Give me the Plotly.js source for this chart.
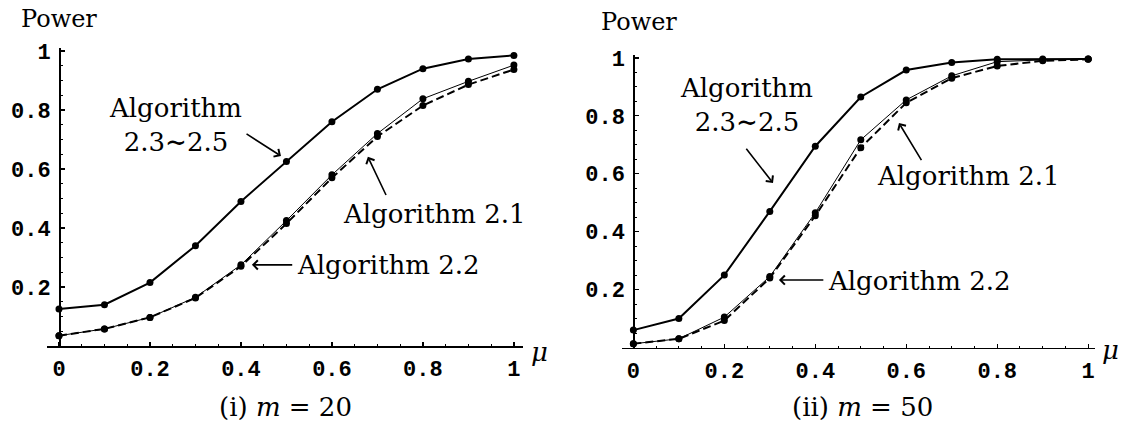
<!DOCTYPE html>
<html>
<head>
<meta charset="utf-8">
<script src="https://cdn.plot.ly/plotly-3.0.1.min.js"></script>
<style>
  html, body { margin: 0; padding: 0; background: #fff; }
  #chart { width: 1133px; height: 432px; }
</style>
</head>
<body>
<div id="chart"></div>
<script>
// Power against the shift mu, for m = 20 (left) and m = 50 (right)
const mu = [0, 0.1, 0.2, 0.3, 0.4, 0.5, 0.6, 0.7, 0.8, 0.9, 1.0];

// m = 20
const alg23to25_m20 = [0.125, 0.14, 0.215, 0.34, 0.49, 0.625, 0.76, 0.87, 0.94, 0.973, 0.985];
const alg21_m20     = [0.035, 0.058, 0.097, 0.163, 0.27, 0.415, 0.57, 0.71, 0.815, 0.886, 0.937];
const alg22_m20     = [0.035, 0.058, 0.097, 0.165, 0.275, 0.425, 0.58, 0.72, 0.838, 0.897, 0.952];

// m = 50
const alg23to25_m50 = [0.06, 0.10, 0.25, 0.47, 0.695, 0.865, 0.958, 0.984, 0.995, 0.996, 0.996];
const alg21_m50     = [0.013, 0.03, 0.093, 0.24, 0.455, 0.69, 0.845, 0.93, 0.972, 0.99, 0.995];
const alg22_m50     = [0.013, 0.03, 0.105, 0.245, 0.465, 0.717, 0.855, 0.938, 0.987, 0.993, 0.996];

const xTicks = [0, 0.2, 0.4, 0.6, 0.8, 1];
const yTicks = [0.2, 0.4, 0.6, 0.8, 1];

const serif = 'DejaVu Serif';
const mono = 'Liberation Mono';

function series(y, xa, ya, kind) {
  const line = kind === 'main' ? {color: '#000', width: 2}
             : kind === 'dash' ? {color: '#000', width: 2, dash: '8px,4px'}
             : {color: '#000', width: 1};
  return {
    x: mu, y: y, xaxis: xa, yaxis: ya,
    type: 'scatter', mode: 'lines+markers',
    line: line,
    marker: {color: '#000', size: 7},
    cliponaxis: false,
    hoverinfo: 'skip'
  };
}

const data = [
  series(alg22_m20, 'x', 'y', 'thin'),
  series(alg21_m20, 'x', 'y', 'dash'),
  series(alg23to25_m20, 'x', 'y', 'main'),
  series(alg22_m50, 'x2', 'y2', 'thin'),
  series(alg21_m50, 'x2', 'y2', 'dash'),
  series(alg23to25_m50, 'x2', 'y2', 'main')
];

function xAxis(domain, range, anchor) {
  return {
    domain: domain, range: range, anchor: anchor,
    showgrid: false, zeroline: false,
    showline: true, linecolor: '#000', linewidth: 1.6,
    tickmode: 'array', tickvals: xTicks,
    ticks: 'inside', ticklen: 4, tickwidth: 1.2, tickcolor: '#000',
    minor: {tickmode: 'linear', tick0: 0, dtick: 0.05, ticks: 'inside', ticklen: 2, tickwidth: 1, tickcolor: '#000'},
    tickfont: {family: mono, size: 22, color: '#000', weight: 'bold'},
    ticklabelstandoff: 2,
    fixedrange: true
  };
}

function yAxis(domain, position) {
  return {
    domain: domain, range: [0, 1.01], anchor: 'free', position: position,
    showgrid: false, zeroline: false,
    showline: true, linecolor: '#000', linewidth: 1.6,
    tickmode: 'array', tickvals: yTicks,
    ticks: 'inside', ticklen: 4, tickwidth: 1.2, tickcolor: '#000',
    minor: {tickmode: 'linear', tick0: 0, dtick: 0.05, ticks: 'inside', ticklen: 2, tickwidth: 1, tickcolor: '#000'},
    tickfont: {family: mono, size: 22, color: '#000', weight: 'bold'},
    ticklabelstandoff: 4,
    fixedrange: true
  };
}

function label(text, x, y, xref, yref, opts) {
  return Object.assign({
    text: text, x: x, y: y, xref: xref, yref: yref,
    showarrow: false, xanchor: 'center', yanchor: 'middle',
    font: {family: serif, size: 26, color: '#000'}
  }, opts || {});
}

function arrow(xa, ya, tipX, tipY, tailX, tailY) {
  return {
    text: ' ', font: {size: 1},
    xref: xa, yref: ya, axref: xa, ayref: ya,
    x: tipX, y: tipY, ax: tailX, ay: tailY,
    showarrow: true, arrowhead: 4, arrowsize: 1.1, arrowwidth: 1.6,
    arrowcolor: '#000', standoff: 0, startstandoff: 0
  };
}

const rangeLabel = 'Algorithm<br>2.3<b>∼</b>2.5';

const annotations = [
  // left panel (m = 20)
  label('Power', 59 / 1133, 1 - 19 / 432, 'paper', 'paper', {font: {family: serif, size: 24, color: '#000'}}),
  label(rangeLabel, 0.257, 0.75, 'x', 'y'),
  arrow('x', 'y', 0.488, 0.644, 0.409, 0.722),
  label('Algorithm 2.1', 0.826, 0.447, 'x', 'y'),
  arrow('x', 'y', 0.679, 0.641, 0.721, 0.505),
  label('Algorithm 2.2', 0.519, 0.275, 'x', 'y', {xanchor: 'left'}),
  arrow('x', 'y', 0.424, 0.275, 0.516, 0.275),
  label('<i>μ</i>', 539 / 1133, 1 - 352 / 432, 'paper', 'paper'),
  label('(i) <i>m</i> = 20', 285 / 1133, 1 - 407 / 432, 'paper', 'paper'),

  // right panel (m = 50)
  label('Power', 639 / 1133, 1 - 22 / 432, 'paper', 'paper', {font: {family: serif, size: 24, color: '#000'}}),
  label(rangeLabel, 0.248, 0.838, 'x2', 'y2'),
  arrow('x2', 'y2', 0.307, 0.568, 0.245, 0.693),
  label('Algorithm 2.1', 0.736, 0.592, 'x2', 'y2'),
  arrow('x2', 'y2', 0.584, 0.775, 0.636, 0.640),
  label('Algorithm 2.2', 0.424, 0.23, 'x2', 'y2', {xanchor: 'left'}),
  arrow('x2', 'y2', 0.320, 0.233, 0.421, 0.233),
  label('<i>μ</i>', 1110 / 1133, 1 - 350 / 432, 'paper', 'paper'),
  label('(ii) <i>m</i> = 50', 862 / 1133, 1 - 407 / 432, 'paper', 'paper')
];

const layout = {
  width: 1133, height: 432,
  margin: {l: 0, r: 0, t: 0, b: 0},
  paper_bgcolor: '#fff', plot_bgcolor: '#fff',
  showlegend: false,
  xaxis: xAxis([46.7 / 1133, 523 / 1133], [-0.027, 1.02], 'y'),
  yaxis: yAxis([(432 - 346) / 432, (432 - 48) / 432], 59 / 1133),
  xaxis2: xAxis([622 / 1133, 1095 / 1133], [-0.025, 1.015], 'y2'),
  yaxis2: yAxis([(432 - 347.5) / 432, (432 - 55) / 432], 633.3 / 1133),
  annotations: annotations
};

Plotly.newPlot('chart', data, layout, {staticPlot: true, displayModeBar: false});
</script>
</body>
</html>
